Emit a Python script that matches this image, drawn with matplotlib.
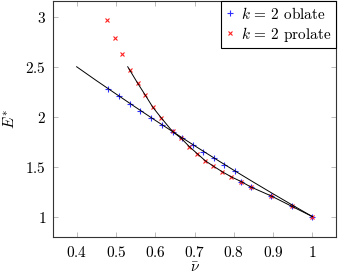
import matplotlib
matplotlib.use("Agg")
import matplotlib.pyplot as plt

# computer modern look like in pgfplots
plt.rcParams['font.family'] = 'serif'
plt.rcParams['font.serif'] = ['cmr10']
plt.rcParams['mathtext.fontset'] = 'cm'
plt.rcParams['axes.unicode_minus'] = False

# data
oblate_x = [0.480, 0.508, 0.535, 0.562, 0.589, 0.616, 0.644, 0.669, 0.695, 0.722,
            0.749, 0.775, 0.802, 0.818, 0.843, 0.895, 0.947, 1.0]
oblate_y = [2.274, 2.204, 2.130, 2.062, 1.990, 1.920, 1.848, 1.782, 1.712, 1.644,
            1.584, 1.520, 1.457, 1.350, 1.297, 1.207, 1.104, 1.0]

prolate_x = [0.478, 0.497, 0.516, 0.536, 0.555, 0.575, 0.594, 0.615, 0.644, 0.666,
             0.687, 0.707, 0.727, 0.748, 0.771, 0.794, 0.819, 0.843, 0.895, 0.947, 1.0]
prolate_y = [2.967, 2.784, 2.624, 2.467, 2.337, 2.214, 2.094, 1.990, 1.852, 1.784,
             1.700, 1.630, 1.560, 1.505, 1.448, 1.397, 1.350, 1.297, 1.207, 1.104, 1.0]

# fitted curves (black lines)
fit_oblate_x = [0.40, 0.45, 0.50, 0.55, 0.60, 0.65, 0.70, 0.75, 0.80, 0.85, 0.90, 0.95, 1.00]
fit_oblate_y = [2.500, 2.362, 2.228, 2.095, 1.964, 1.836, 1.710, 1.586, 1.464, 1.345, 1.228, 1.113, 1.000]

fit_prolate_x = [0.530, 0.555, 0.575, 0.594, 0.615, 0.644, 0.666, 0.687, 0.707, 0.727,
                 0.748, 0.771, 0.794, 0.819, 0.843, 0.895, 0.947, 1.0]
fit_prolate_y = [2.500, 2.337, 2.214, 2.094, 1.990, 1.852, 1.784, 1.700, 1.630, 1.560,
                 1.505, 1.448, 1.397, 1.350, 1.297, 1.207, 1.104, 1.0]

x_ticks = [0.4, 0.5, 0.6, 0.7, 0.8, 0.9, 1.0]
x_labels = ["0.4", "0.5", "0.6", "0.7", "0.8", "0.9", "1"]
y_ticks = [1.0, 1.5, 2.0, 2.5, 3.0]
y_labels = ["1", "1.5", "2", "2.5", "3"]

fig = plt.figure(figsize=(3.38, 2.78), dpi=100)
ax = fig.add_axes([0.157, 0.149, 0.837, 0.847])

ax.plot(oblate_x, oblate_y, linestyle='none', marker='+', color='#3030ff',
        markersize=5, markeredgewidth=0.8, label=r"$k\,=\,2$ oblate")
ax.plot(prolate_x, prolate_y, linestyle='none', marker='x', color='#ff2020',
        markersize=3.5, markeredgewidth=0.8, label=r"$k\,=\,2$ prolate")
ax.plot(fit_oblate_x, fit_oblate_y, color='black', linewidth=0.7)
ax.plot(fit_prolate_x, fit_prolate_y, color='black', linewidth=0.7)

ax.set_xlim(0.34, 1.06)
ax.set_ylim(0.80, 3.157)
ax.set_xticks(x_ticks)
ax.set_xticklabels([f"${s}$" for s in x_labels])
ax.set_yticks(y_ticks)
ax.set_yticklabels([f"${s}$" for s in y_labels])

ax.tick_params(direction='in', length=3.5, width=0.6, color='#b0b0b0',
               top=True, right=True, labelsize=11, pad=5)
ax.tick_params(axis='x', pad=6)
for sp in ax.spines.values():
    sp.set_linewidth(0.8)
    sp.set_color('#333333')

ax.set_xlabel(r"$\bar{\nu}$", fontsize=11, labelpad=1)
ax.set_ylabel(r"$E^{*}$", fontsize=11, labelpad=6)

leg = ax.legend(loc='upper right', bbox_to_anchor=(1.0, 1.0), borderaxespad=0,
                fontsize=11, fancybox=False, edgecolor='black', framealpha=1,
                handlelength=0.6, handletextpad=0.4, labelspacing=0.2,
                borderpad=0.3)
leg.get_frame().set_linewidth(0.8)

plt.savefig("out.png", dpi=100)
